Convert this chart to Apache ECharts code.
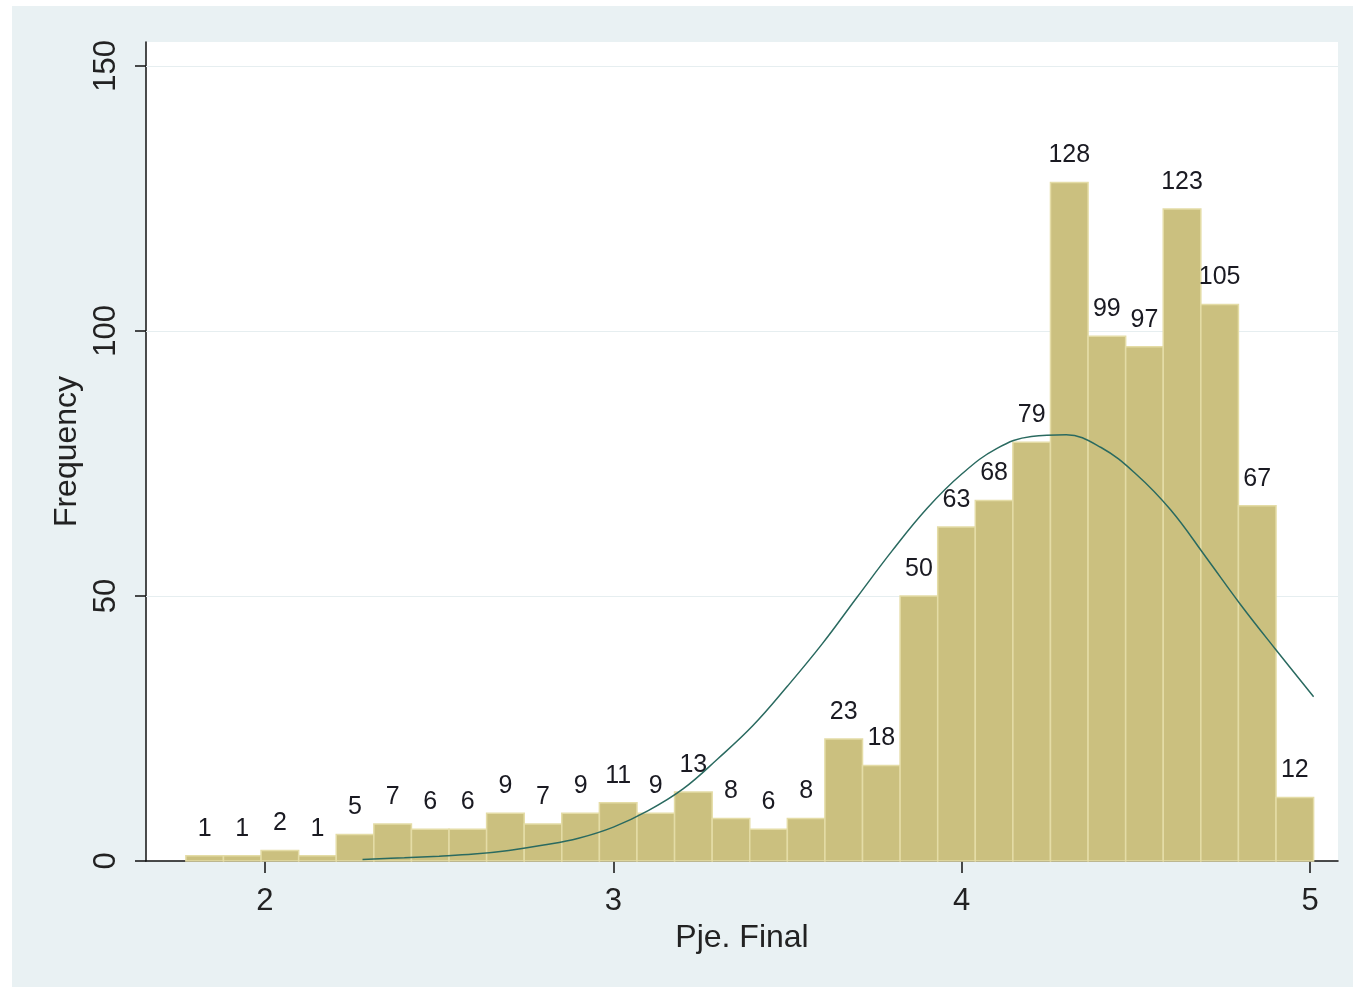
<!DOCTYPE html>
<html>
<head>
    <meta charset="utf-8" />
    <title>Histograma Pje. Final</title>
    <script src="https://cdn.jsdelivr.net/npm/echarts@6/dist/echarts.min.js"></script>
    <style>
        body { margin: 0; background: #fff; }
        #main { position: absolute; left: 12px; top: 6px; width: 1341px; height: 981px; background: #e9f1f3; }
    </style>
</head>
<body>
    <div id="main"></div>
    <script type="text/javascript">
        // frecuencias por intervalo (30 barras)
        var counts = [1, 1, 2, 1, 5, 7, 6, 6, 9, 7, 9, 11, 9, 13, 8, 6, 8, 23, 18, 50, 63, 68, 79, 128, 99, 97, 123, 105, 67, 12];
        var binStart = 1.773;
        var binWidth = 0.1079;

        // curva normal
        var curveX = [2.28, 2.4, 2.5, 2.6, 2.7, 2.8, 2.9, 3.0, 3.1, 3.2, 3.3, 3.4, 3.5, 3.6, 3.7, 3.8, 3.9, 4.0, 4.1, 4.2, 4.3, 4.4, 4.5, 4.6, 4.7, 4.8, 4.9, 5.01];
        var curveY = [0.3, 0.6, 0.9, 1.3, 2.0, 3.0, 4.3, 6.4, 9.5, 13.6, 19.3, 25.5, 33, 41, 49.8, 58.5, 66.5, 73, 77.8, 80.1, 80.4, 78.0, 73.0, 66.2, 57.4, 48.4, 40, 31];

        var xTicks = [2, 3, 4, 5];
        var yTicks = [0, 50, 100, 150];
        var gridVals = [50, 100, 150];

        var bars = counts.map(function (c, i) {
            return [binStart + i * binWidth, binStart + (i + 1) * binWidth, c];
        });
        var curve = curveX.map(function (x, i) { return [x, curveY[i]]; });

        var myChart = echarts.init(document.getElementById('main'));
        var font = '"Liberation Sans", Arial, sans-serif';

        var option = {
            animation: false,
            grid: {
                left: 134, top: 36, width: 1192, height: 819,
                show: true, backgroundColor: '#ffffff', borderWidth: 0
            },
            xAxis: {
                type: 'value',
                min: 1.6585,
                max: 5.08,
                name: 'Pje. Final',
                nameLocation: 'middle',
                nameGap: 58,
                nameTextStyle: { fontSize: 32, color: '#222', fontFamily: font },
                axisLine: { lineStyle: { color: '#111', width: 1.5 } },
                axisTick: { customValues: xTicks, length: 12, lineStyle: { color: '#111', width: 1.5 } },
                axisLabel: { customValues: xTicks, fontSize: 31, color: '#222', fontFamily: font, margin: 25 },
                splitLine: { show: false }
            },
            yAxis: {
                type: 'value',
                min: 0,
                max: 154.5,
                name: 'Frequency',
                nameLocation: 'middle',
                nameGap: 62,
                nameTextStyle: { fontSize: 32, color: '#222', fontFamily: font },
                axisLine: { show: true, lineStyle: { color: '#111', width: 1.5 } },
                axisTick: { show: true, customValues: yTicks, length: 11, lineStyle: { color: '#111', width: 1.5 } },
                axisLabel: { customValues: yTicks, rotate: 90, fontSize: 31, color: '#222', fontFamily: font, margin: 24 },
                splitLine: { show: false }
            },
            series: [
                {
                    type: 'custom',
                    data: bars,
                    encode: { x: [0, 1], y: 2 },
                    renderItem: function (params, api) {
                        var p0 = api.coord([api.value(0), 0]);
                        var p1 = api.coord([api.value(1), api.value(2)]);
                        return {
                            type: 'group',
                            children: [
                                {
                                    type: 'rect',
                                    shape: { x: p0[0], y: p1[1], width: p1[0] - p0[0], height: p0[1] - p1[1] },
                                    style: { fill: '#cbc07f', stroke: '#e4dca6', lineWidth: 1.5 }
                                },
                                {
                                    type: 'text',
                                    x: (p0[0] + p1[0]) / 2,
                                    y: p1[1] - 27,
                                    style: {
                                        text: String(api.value(2)),
                                        fill: '#1a1a22',
                                        font: '25px ' + font,
                                        align: 'center',
                                        verticalAlign: 'middle'
                                    }
                                }
                            ]
                        };
                    },
                    markLine: {
                        silent: true,
                        symbol: 'none',
                        label: { show: false },
                        lineStyle: { color: '#e6eef0', width: 1.2, type: 'solid' },
                        data: gridVals.map(function (v) { return { yAxis: v }; }),
                        z: 1
                    }
                },
                {
                    type: 'line',
                    data: curve,
                    smooth: 0.4,
                    symbol: 'none',
                    lineStyle: { color: '#2a6a60', width: 1.5 },
                    z: 5
                }
            ]
        };

        myChart.setOption(option);
    </script>
</body>
</html>
